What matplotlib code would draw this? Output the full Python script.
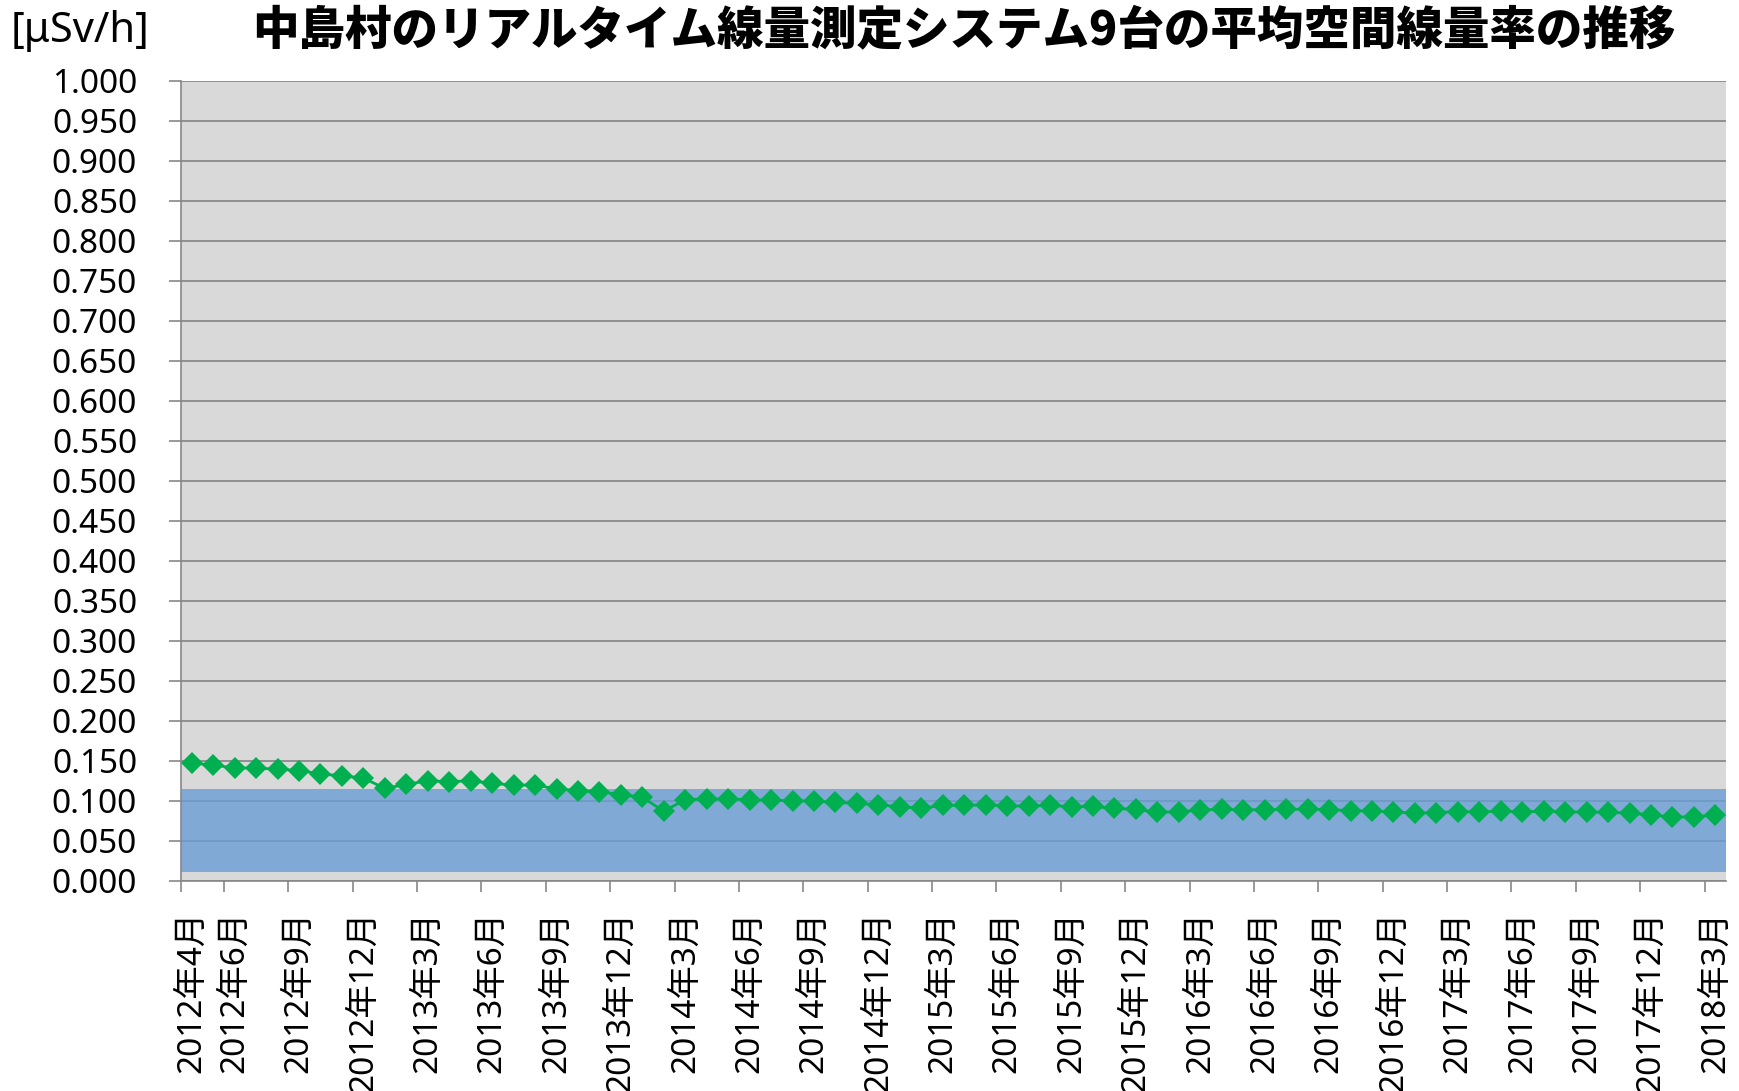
import numpy as np
import matplotlib
matplotlib.use('Agg')
import matplotlib.pyplot as plt

plt.rcParams['font.family'] = ['Noto Sans', 'Noto Sans CJK JP', 'DejaVu Sans']

# monthly average dose rate, 2012年4月 .. 2018年3月 (72 months)
values = [
    0.147, 0.1445, 0.141, 0.1407, 0.1394, 0.1377, 0.1335, 0.131, 0.1284, 0.1153, 0.1203, 0.125,
    0.1237, 0.125, 0.1216, 0.1195, 0.1195, 0.1148, 0.1127, 0.111, 0.1076, 0.1042, 0.0869, 0.1013,
    0.1021, 0.1021, 0.1013, 0.1004, 0.100, 0.0992, 0.0979, 0.0966, 0.0949, 0.0924, 0.0907, 0.0941,
    0.0941, 0.0949, 0.0936, 0.0932, 0.0941, 0.0924, 0.0928, 0.0903, 0.089, 0.0856, 0.086, 0.0886,
    0.089, 0.0886, 0.0886, 0.089, 0.0894, 0.0886, 0.0877, 0.0869, 0.086, 0.0843, 0.0852, 0.0864,
    0.086, 0.0869, 0.086, 0.0869, 0.086, 0.0856, 0.0856, 0.0843, 0.0826, 0.0792, 0.0801, 0.0818,
]
tick_labels = ['2012年4月', '2012年6月', '2012年9月', '2012年12月',
               '2013年3月', '2013年6月', '2013年9月', '2013年12月',
               '2014年3月', '2014年6月', '2014年9月', '2014年12月',
               '2015年3月', '2015年6月', '2015年9月', '2015年12月',
               '2016年3月', '2016年6月', '2016年9月', '2016年12月',
               '2017年3月', '2017年6月', '2017年9月', '2017年12月',
               '2018年3月']
band_low, band_high = 0.0104, 0.1141

def month_index(s):
    y, m = s.replace('月', '').split('年')
    return (int(y) - 2012) * 12 + int(m) - 4

tick_pos = [month_index(s) for s in tick_labels]
x = np.arange(len(values)) + 0.5

fig = plt.figure(figsize=(17.4, 10.91), dpi=100)
ax = fig.add_axes([0.104, 0.1928, 0.888, 0.733])
ax.set_facecolor('#d9d9d9')

ax.set_ylim(0, 1.0)
ax.set_xlim(0, len(values))
ax.set_yticks(np.arange(0, 1.0001, 0.05))
ax.set_yticklabels(['%.3f' % v for v in np.arange(0, 1.0001, 0.05)])
ax.yaxis.grid(True, color='#8a8a8a', lw=1.3, zorder=1)
ax.set_axisbelow(True)

ax.axhspan(band_low, band_high, color='#6a9ed5', alpha=0.8, lw=0, zorder=2)
ax.plot(x, values, color='#00b050', lw=2, marker='D', ms=11.5,
        markeredgewidth=0, zorder=3)

ax.set_xticks(tick_pos)
ax.set_xticklabels([])
ax.set_xticks([p + 0.5 for p in tick_pos], minor=True)
ax.set_xticklabels(tick_labels, minor=True, rotation=90, va='top', ha='center')
ax.tick_params(axis='x', which='major', length=8, color='#878787', width=1.2)
ax.tick_params(axis='x', which='minor', length=0, pad=22, labelsize=24)
ax.tick_params(axis='y', length=8.6, color='#878787', width=1.2, pad=23, labelsize=24)

for s in ['top', 'right']:
    ax.spines[s].set_visible(False)
for s in ['left', 'bottom']:
    ax.spines[s].set_color('#878787')
    ax.spines[s].set_linewidth(1.2)

fig.text(0.006, 0.972, '[μSv/h]', fontsize=30, ha='left', va='center')
fig.text(0.554, 0.972, '中島村のリアルタイム線量測定システム9台の平均空間線量率の推移',
         fontsize=33.5, fontweight='heavy', ha='center', va='center',
         family=['Noto Sans CJK JP', 'DejaVu Sans'])

fig.savefig('out.png', dpi=100)
